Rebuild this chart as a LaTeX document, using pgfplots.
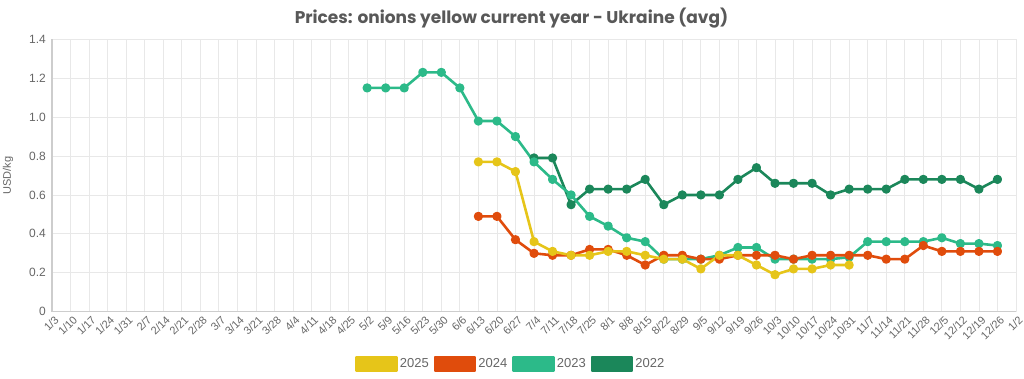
\documentclass[border=0pt]{standalone}
\usepackage{pgfplots}
\pgfplotsset{compat=1.18}
\usepackage{pgfplotstable}
\usepackage{fontspec}
\setmainfont{Liberation Sans}
\newfontfamily\titlefont{Poppins}
\definecolor{c2025}{RGB}{230,197,25}
\definecolor{c2024}{RGB}{224,76,12}
\definecolor{c2023}{RGB}{44,186,137}
\definecolor{c2022}{RGB}{27,135,90}
\definecolor{gridc}{RGB}{232,232,232}
\definecolor{axc}{RGB}{205,205,205}
\definecolor{txt}{RGB}{102,102,102}
\definecolor{ttl}{RGB}{88,88,88}

\pgfplotstableread{
x y
26 0.79
27 0.79
28 0.55
29 0.63
30 0.63
31 0.63
32 0.68
33 0.55
34 0.60
35 0.60
36 0.60
37 0.68
38 0.74
39 0.66
40 0.66
41 0.66
42 0.60
43 0.63
44 0.63
45 0.63
46 0.68
47 0.68
48 0.68
49 0.68
50 0.63
51 0.68
}\dataA

\pgfplotstableread{
x y
17 1.15
18 1.15
19 1.15
20 1.23
21 1.23
22 1.15
23 0.98
24 0.98
25 0.90
26 0.77
27 0.68
28 0.60
29 0.49
30 0.44
31 0.38
32 0.36
33 0.27
34 0.27
35 0.27
36 0.29
37 0.33
38 0.33
39 0.27
40 0.27
41 0.27
42 0.27
43 0.28
44 0.36
45 0.36
46 0.36
47 0.36
48 0.38
49 0.35
50 0.35
51 0.34
}\dataB

\pgfplotstableread{
x y
23 0.49
24 0.49
25 0.37
26 0.30
27 0.29
28 0.29
29 0.32
30 0.32
31 0.29
32 0.24
33 0.29
34 0.29
35 0.27
36 0.27
37 0.29
38 0.29
39 0.29
40 0.27
41 0.29
42 0.29
43 0.29
44 0.29
45 0.27
46 0.27
47 0.34
48 0.31
49 0.31
50 0.31
51 0.31
}\dataC

\pgfplotstableread{
x y
23 0.77
24 0.77
25 0.72
26 0.36
27 0.31
28 0.29
29 0.29
30 0.31
31 0.31
32 0.29
33 0.27
34 0.27
35 0.22
36 0.29
37 0.29
38 0.24
39 0.19
40 0.22
41 0.22
42 0.24
43 0.24
}\dataD

\begin{document}
\begin{tikzpicture}
\path[use as bounding box] (0pt,0pt) rectangle (1024pt,379pt);
\begin{axis}[
  at={(52pt,67.3pt)}, anchor=south west,
  scale only axis, width=964pt, height=272.4pt,
  xmin=0, xmax=52, ymin=0, ymax=1.4,
  clip=false,
  axis lines=left, axis line style={-, draw=axc, line width=1.2pt},
  grid=major, major grid style={draw=gridc, line width=0.8pt},
  major tick length=0pt,
  xtick={0,...,52},
  xticklabels={1/3,1/10,1/17,1/24,1/31,2/7,2/14,2/21,2/28,3/7,3/14,3/21,3/28,4/4,4/11,4/18,4/25,5/2,5/9,5/16,5/23,5/30,6/6,6/13,6/20,6/27,7/4,7/11,7/18,7/25,8/1,8/8,8/15,8/22,8/29,9/5,9/12,9/19,9/26,10/3,10/10,10/17,10/24,10/31,11/7,11/14,11/21,11/28,12/5,12/12,12/19,12/26,1/2},
  xticklabel style={rotate=45, anchor=north east, font=\fontsize{11pt}{12pt}\selectfont, text=txt, inner sep=0.5pt, xshift=-0.5pt, yshift=-3pt},
  ytick={0,0.2,0.4,0.6,0.8,1.0,1.2,1.4},
  yticklabels={0,0.2,0.4,0.6,0.8,1.0,1.2,1.4},
  yticklabel style={font=\fontsize{12pt}{13pt}\selectfont, text=txt, inner sep=1pt, xshift=-5pt},
  ylabel={USD/kg},
  ylabel style={at={(axis description cs:-0.0456,0.5)}, anchor=center, font=\fontsize{11pt}{12pt}\selectfont, text=txt},
  title={Prices: onions yellow current year - Ukraine (avg)},
  title style={at={(axis description cs:0.4767,1.057)}, anchor=center, font=\titlefont\bfseries\fontsize{17pt}{19pt}\selectfont, text=ttl},
  legend columns=4,
  reverse legend,
  legend style={at={(axis description cs:0.476,-0.192)}, anchor=center, draw=none, fill=none,
    font=\fontsize{13pt}{14pt}\selectfont, text=txt,
    /tikz/every even column/.append style={column sep=3pt},
    nodes={inner sep=2pt}},
  every axis plot/.append style={line width=2.6pt, mark=*, mark size=3.3pt, line join=round},
]
\addplot[c2022, mark options={fill=c2022, draw=c2022},
  legend image code/.code={\fill[c2022] (0pt,-7pt) rectangle (40pt,7pt);}] table[x=x,y=y] {\dataA};
\addlegendentry{2022}
\addplot[c2023, mark options={fill=c2023, draw=c2023},
  legend image code/.code={\fill[c2023] (0pt,-7pt) rectangle (40pt,7pt);}] table[x=x,y=y] {\dataB};
\addlegendentry{2023}
\addplot[c2024, mark options={fill=c2024, draw=c2024},
  legend image code/.code={\fill[c2024] (0pt,-7pt) rectangle (40pt,7pt);}] table[x=x,y=y] {\dataC};
\addlegendentry{2024}
\addplot[c2025, mark options={fill=c2025, draw=c2025},
  legend image code/.code={\fill[c2025] (0pt,-7pt) rectangle (40pt,7pt);}] table[x=x,y=y] {\dataD};
\addlegendentry{2025}
\end{axis}
\end{tikzpicture}
\end{document}
